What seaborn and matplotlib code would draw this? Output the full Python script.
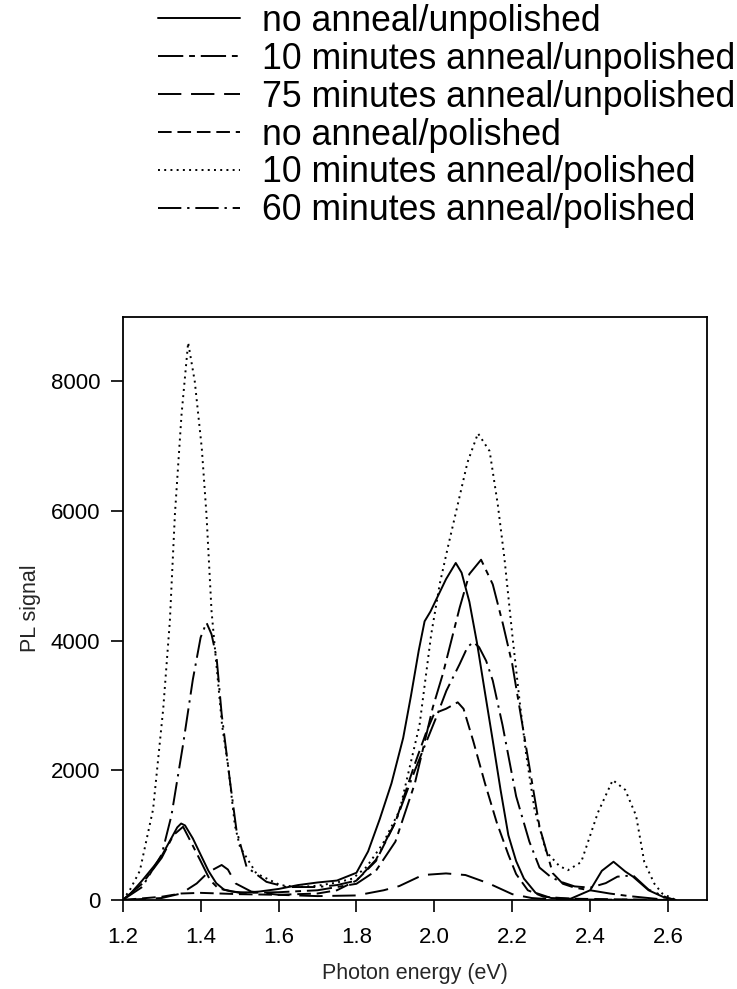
import matplotlib
matplotlib.use("Agg")
import matplotlib.pyplot as plt
import seaborn as sns
import pandas as pd

# ---------------- data ----------------
labels = [
    "no anneal/unpolished",
    "10 minutes anneal/unpolished",
    "75 minutes anneal/unpolished",
    "no anneal/polished",
    "10 minutes anneal/polished",
    "60 minutes anneal/polished",
]

e_solid = [1.20, 1.22, 1.25, 1.28, 1.30, 1.32, 1.34, 1.35, 1.36, 1.38, 1.40, 1.42, 1.44, 1.46,
           1.50, 1.55, 1.60, 1.65, 1.70, 1.75, 1.80, 1.83, 1.86, 1.89, 1.92, 1.94, 1.96, 1.975,
           1.99, 2.01, 2.03, 2.055, 2.07, 2.09, 2.11, 2.13, 2.15, 2.17, 2.19, 2.21, 2.23, 2.26,
           2.30, 2.35, 2.40, 2.43, 2.46, 2.49, 2.51, 2.55, 2.59, 2.62]
v_solid = [0, 100, 300, 520, 680, 900, 1120, 1180, 1150, 950, 700, 450, 260, 160,
           110, 130, 170, 230, 270, 300, 420, 750, 1250, 1800, 2500, 3150, 3850, 4300,
           4450, 4700, 4950, 5200, 5050, 4600, 3950, 3200, 2460, 1700, 1000, 600, 330, 110,
           30, 20, 150, 450, 590, 440, 360, 150, 40, 0]

e_10u = [1.20, 1.25, 1.30, 1.33, 1.355, 1.373, 1.40, 1.424, 1.445, 1.48, 1.52, 1.60, 1.70, 1.80,
         1.85, 1.90, 1.95, 1.996, 2.022, 2.065, 2.09, 2.12, 2.15, 2.176, 2.20, 2.24, 2.27, 2.304,
         2.33, 2.36, 2.40, 2.45, 2.50, 2.55, 2.60]
v_10u = [0, 250, 650, 1000, 1130, 920, 600, 310, 180, 130, 110, 120, 150, 250,
         450, 900, 1800, 2970, 3490, 4510, 5030, 5250, 4870, 4260, 3640, 2200, 1130, 414,
         250, 190, 150, 100, 60, 30, 0]

e_75u = [1.20, 1.30, 1.35, 1.39, 1.42, 1.454, 1.47, 1.49, 1.53, 1.60, 1.70, 1.80, 1.87, 1.91,
         1.97, 2.03, 2.08, 2.14, 2.20, 2.25, 2.30, 2.45, 2.60]
v_75u = [0, 30, 100, 255, 430, 540, 470, 255, 130, 80, 60, 70, 150, 215,
         385, 410, 385, 255, 90, 30, 10, 5, 0]

e_0p = [1.20, 1.30, 1.35, 1.40, 1.50, 1.60, 1.70, 1.75, 1.80, 1.85, 1.90, 1.95, 1.98, 2.00,
        2.03, 2.06, 2.075, 2.10, 2.13, 2.16, 2.19, 2.21, 2.24, 2.28, 2.35, 2.60]
v_0p = [0, 50, 100, 110, 90, 80, 100, 150, 300, 600, 1200, 2100, 2600, 2880,
        2950, 3050, 2950, 2450, 1800, 1200, 700, 400, 150, 50, 20, 0]

e_10p = [1.20, 1.218, 1.244, 1.278, 1.304, 1.321, 1.334, 1.351, 1.368, 1.385, 1.403, 1.415,
         1.428, 1.441, 1.455, 1.471, 1.488, 1.501, 1.543, 1.604, 1.65, 1.70, 1.75, 1.79,
         1.826, 1.868, 1.911, 1.962, 1.992, 2.014, 2.035, 2.06, 2.085, 2.112, 2.142, 2.163,
         2.18, 2.20, 2.219, 2.236, 2.257, 2.287, 2.321, 2.343, 2.377, 2.42, 2.458, 2.49,
         2.518, 2.539, 2.565, 2.585, 2.62]
v_10p = [0, 150, 450, 1400, 2950, 4300, 5950, 7490, 8600, 8000, 6970, 5950,
         4460, 3600, 2700, 2050, 1150, 820, 410, 230, 200, 220, 270, 330,
         510, 870, 1385, 2700, 4100, 4880, 5450, 6100, 6750, 7200, 6924, 6096,
         5269, 4100, 3062, 2234, 1407, 745, 524, 460, 585, 1350, 1850, 1700,
         1300, 585, 250, 100, 0]

e_60p = [1.20, 1.25, 1.30, 1.325, 1.355, 1.38, 1.40, 1.415, 1.428, 1.441, 1.454, 1.475, 1.492,
         1.518, 1.569, 1.62, 1.70, 1.75, 1.80, 1.85, 1.90, 1.95, 2.005, 2.031, 2.065, 2.085,
         2.10, 2.115, 2.133, 2.15, 2.175, 2.21, 2.244, 2.27, 2.30, 2.33, 2.36, 2.40, 2.44,
         2.47, 2.51, 2.55, 2.60, 2.62]
v_60p = [0, 200, 700, 1300, 2400, 3400, 4050, 4280, 4100, 3740, 2870, 1850, 1080,
         510, 280, 200, 200, 230, 300, 620, 1200, 2000, 2820, 3230, 3640, 3900,
         3980, 3900, 3690, 3385, 2700, 1600, 900, 500, 350, 270, 210, 190, 260,
         360, 380, 160, 30, 0]

energies = [e_solid, e_10u, e_75u, e_0p, e_10p, e_60p]
signals = [v_solid, v_10u, v_75u, v_0p, v_10p, v_60p]

x_ticks = [1.2, 1.4, 1.6, 1.8, 2.0, 2.2, 2.4, 2.6]
x_ticklabels = ["1.2", "1.4", "1.6", "1.8", "2.0", "2.2", "2.4", "2.6"]
y_ticks = [0, 2000, 4000, 6000, 8000]

# ---------------- style ----------------
sns.set_style("ticks")
plt.rcParams['font.family'] = ['Liberation Sans', 'DejaVu Sans']
plt.rcParams['text.color'] = 'black'

linestyles = [
    '-',
    (0, (13, 3, 3, 3)),
    (0, (12, 5)),
    (0, (7, 3)),
    (0, (1, 2.2)),
    (0, (12, 3, 1.2, 3)),
]

fig = plt.figure(figsize=(7.37, 9.89), dpi=100)
ax = fig.add_axes([0.1665, 0.09, 0.7928, 0.5898])

for lab, e, v, ls in zip(labels, energies, signals, linestyles):
    df = pd.DataFrame({"energy": e, "signal": v})
    sns.lineplot(data=df, x="energy", y="signal", ax=ax, color="black",
                 linewidth=1.4, linestyle=ls, label=lab, estimator=None, sort=False)

ax.set_xlim(1.2, 2.7)
ax.set_ylim(0, 9000)
ax.set_xticks(x_ticks)
ax.set_xticklabels(x_ticklabels)
ax.set_yticks(y_ticks)
ax.tick_params(axis='both', which='major', labelsize=16, length=8.6, width=1.2,
               direction='out', colors='black', pad=7.5)
ax.tick_params(axis='x', pad=11)
ax.set_xlabel("Photon energy (eV)", fontsize=15.5, labelpad=11)
ax.set_ylabel("PL signal", fontsize=15.5, labelpad=7)
for s in ax.spines.values():
    s.set_visible(True)
    s.set_linewidth(1.3)
    s.set_color('black')

handles, lbls = ax.get_legend_handles_labels()
ax.legend_.remove()
fig.legend(handles, lbls, loc='upper left', bbox_to_anchor=(0.2144, 0.996),
           bbox_transform=fig.transFigure, frameon=False, fontsize=25.7,
           handlelength=2.3, handletextpad=0.6, labelspacing=0.08,
           borderpad=0.0, borderaxespad=0.0)

fig.savefig("out.png", dpi=100)
